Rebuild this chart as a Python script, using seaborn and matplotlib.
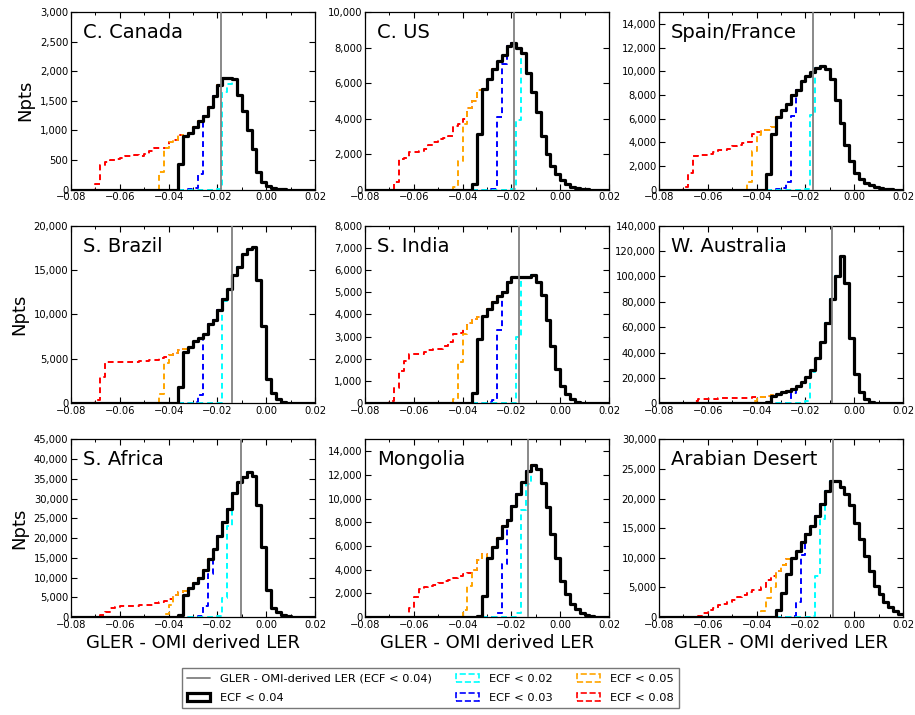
import numpy as np
import pandas as pd
import matplotlib
matplotlib.use("Agg")
import matplotlib.pyplot as plt
import seaborn as sns
from matplotlib.patches import Patch
from matplotlib.lines import Line2D
from matplotlib.ticker import FuncFormatter, MultipleLocator

# ---------------- data ----------------
BIN_START = -0.08
BIN_WIDTH = 0.002
N_BINS = 50

REGIONS = ["C. Canada", "C. US", "Spain/France", "S. Brazil", "S. India",
           "W. Australia", "S. Africa", "Mongolia", "Arabian Desert"]
Y_MAX = [3000, 10000, 15000, 20000, 8000, 140000, 45000, 15000, 30000]
Y_STEP = [500, 2000, 2000, 5000, 1000, 20000, 5000, 2000, 5000]
MEAN_DIFF = [-0.0185, -0.0191, -0.017, -0.014, -0.017, -0.009, -0.0105, -0.0134, -0.0086]

# Each entry: (first bin index, counts). ECF<0.04 is the full histogram;
# the other thresholds list their own leading bins, after which they coincide
# with the wider distribution (ECF<0.08 joins ECF<0.04, the rest join ECF<0.08).
canada_ecf04 = (22, [440, 910, 960, 1050, 1160, 1240, 1400, 1580, 1770, 1890, 1890, 1870,
                     1600, 1330, 1000, 680, 300, 130, 60, 25, 10, 5])
canada_ecf08 = (5, [100, 420, 470, 500, 520, 530, 570, 570, 580, 560, 600, 650, 700, 700,
                    710, 800, 840, 920])
canada_ecf05 = (18, [290])
canada_ecf03 = (24, [10, 20, 260])
canada_ecf02 = (30, [10, 1650, 1780])

us_ecf04 = (22, [300, 3150, 5650, 6200, 6800, 7250, 7600, 8100, 8250, 8000, 7700, 6550,
                 5500, 4350, 3000, 2000, 1350, 850, 550, 300, 170, 100, 50, 20])
us_ecf08 = (6, [400, 1700, 1800, 2100, 2100, 2200, 2300, 2500, 2700, 2850, 2900, 3000,
                3600, 3700, 4000, 4600, 5000, 5600])
us_ecf05 = (18, [150, 1600, 3700])
us_ecf03 = (25, [20, 50, 4100, 7100])
us_ecf02 = (30, [30, 3900])

spain_ecf04 = (22, [1300, 4700, 6100, 6700, 7200, 8000, 8400, 9200, 9600, 9900, 10300,
                    10400, 10200, 9300, 7600, 5600, 3800, 2400, 1400, 900, 550, 350, 200,
                    100, 50, 30])
spain_ecf08 = (5, [250, 1400, 2800, 2900, 2950, 3000, 3200, 3350, 3350, 3400, 3700, 3800,
                   3900, 4000, 4700, 4900, 5000, 5000, 5300])
spain_ecf05 = (18, [600, 3300, 4600])
spain_ecf03 = (24, [30, 100, 600, 6200])
spain_ecf02 = (30, [50, 6300])

brazil_ecf04 = (22, [1800, 5800, 6300, 7000, 7400, 7800, 8900, 9400, 10500, 11800, 12900,
                     14500, 15400, 16800, 17400, 17600, 13900, 8700, 2700, 1200, 500, 150, 50])
brazil_ecf08 = (5, [400, 3000, 4600, 4700, 4700, 4700, 4650, 4700, 4700, 4750, 4800, 4850,
                    4900, 5100, 5200, 5400, 5700, 6000, 6100])
brazil_ecf05 = (18, [1000, 4500])
brazil_ecf03 = (25, [100, 900])
brazil_ecf02 = (30, [50, 11500])

india_ecf04 = (22, [450, 2900, 3950, 4250, 4550, 4850, 5000, 5450, 5680, 5680, 5700, 5680,
                    5800, 5450, 4900, 3750, 2600, 1550, 800, 420, 200, 80, 30])
india_ecf08 = (5, [100, 700, 1450, 1900, 2200, 2200, 2200, 2300, 2400, 2450, 2450, 2600,
                   2750, 3100, 3150, 3350, 3600, 3800, 3900])
india_ecf05 = (18, [200, 1850, 3100])
india_ecf03 = (24, [20, 50, 150, 3300])
india_ecf02 = (30, [30, 3000])

australia_ecf04 = (22, [800, 5500, 7500, 8500, 10000, 11500, 13500, 16500, 20500, 26500,
                        36000, 48000, 63000, 82000, 100500, 116000, 95000, 51500, 23000,
                        8500, 3000, 1200, 400, 100])
australia_ecf08 = (7, [2000, 3000, 3500, 3600, 3700, 3800, 3800, 4000, 4000, 4200, 4300,
                       4500, 4700, 5000, 5300, 5700, 6500])
australia_ecf05 = (19, [2000])
australia_ecf03 = (26, [500, 8000])
australia_ecf02 = (30, [2000, 25000])

africa_ecf04 = (22, [500, 5500, 7400, 8700, 10000, 12000, 14700, 17200, 20500, 24000,
                     27300, 31500, 34300, 35500, 36800, 35800, 28300, 17700, 6800, 2400,
                     1200, 500, 200, 80])
africa_ecf08 = (6, [500, 1300, 2200, 2500, 2700, 2700, 2800, 2900, 3000, 3000, 3100, 3500,
                    3800, 4000, 4500, 5500, 6300, 6600])
africa_ecf05 = (19, [800, 3000])
africa_ecf03 = (26, [200, 2800, 11000])
africa_ecf02 = (30, [300, 4900, 23000])

mongolia_ecf04 = (23, [100, 1800, 5000, 5900, 6700, 7700, 8200, 9400, 10400, 11400, 12300,
                       12800, 12500, 11300, 9300, 7000, 5000, 3000, 1900, 1100, 700, 350,
                       150, 60])
mongolia_ecf08 = (9, [800, 1700, 2400, 2500, 2600, 2700, 2900, 3000, 3100, 3300, 3500,
                      3600, 3700, 4000, 4800, 5300])
mongolia_ecf05 = (20, [600, 2600])
mongolia_ecf03 = (27, [300, 4500])
mongolia_ecf02 = (31, [300, 9000, 11200])

arabia_ecf04 = (24, [1100, 4000, 7300, 10000, 11200, 12700, 14100, 15300, 17000, 19100,
                     21300, 22900, 22900, 22000, 20800, 18900, 15900, 13200, 10300, 7800,
                     5300, 3900, 2500, 1700, 1000, 450])
arabia_ecf08 = (8, [200, 600, 1100, 1500, 2000, 2200, 2600, 2900, 3300, 3700, 4200, 4500,
                    4600, 5000, 6200, 7000, 7700, 8700, 9800])
arabia_ecf05 = (21, [1000, 3200, 5000])
arabia_ecf03 = (27, [200, 2600, 10500])
arabia_ecf02 = (31, [200, 7000, 16500])

PANELS = [
    (canada_ecf04, canada_ecf08, canada_ecf05, canada_ecf03, canada_ecf02),
    (us_ecf04, us_ecf08, us_ecf05, us_ecf03, us_ecf02),
    (spain_ecf04, spain_ecf08, spain_ecf05, spain_ecf03, spain_ecf02),
    (brazil_ecf04, brazil_ecf08, brazil_ecf05, brazil_ecf03, brazil_ecf02),
    (india_ecf04, india_ecf08, india_ecf05, india_ecf03, india_ecf02),
    (australia_ecf04, australia_ecf08, australia_ecf05, australia_ecf03, australia_ecf02),
    (africa_ecf04, africa_ecf08, africa_ecf05, africa_ecf03, africa_ecf02),
    (mongolia_ecf04, mongolia_ecf08, mongolia_ecf05, mongolia_ecf03, mongolia_ecf02),
    (arabia_ecf04, arabia_ecf08, arabia_ecf05, arabia_ecf03, arabia_ecf02),
]

LEGEND_LABELS = ["GLER - OMI-derived LER (ECF < 0.04)", "ECF < 0.04", "ECF < 0.02",
                 "ECF < 0.03", "ECF < 0.05", "ECF < 0.08"]

# ---------------- helpers ----------------
edges = BIN_START + BIN_WIDTH * np.arange(N_BINS + 1)
centers = 0.5 * (edges[:-1] + edges[1:])
edge_list = edges.tolist()


def place(entry):
    start, vals = entry
    arr = np.zeros(N_BINS)
    arr[start:start + len(vals)] = vals
    return arr


def join(entry, base):
    """Series' own leading bins, then the wider distribution beyond."""
    start, vals = entry
    arr = base.copy()
    arr[:start] = 0
    arr[start:start + len(vals)] = vals
    return arr


# ---------------- style ----------------
sns.set_style("ticks")
plt.rcParams.update({
    "font.family": ["DejaVu Sans"],
    "xtick.direction": "in",
    "ytick.direction": "in",
    "xtick.top": True,
    "ytick.right": True,
    "axes.edgecolor": "black",
    "axes.linewidth": 0.9,
    "xtick.color": "black",
    "ytick.color": "black",
    "xtick.labelcolor": "black",
    "ytick.labelcolor": "black",
    "text.color": "black",
    "axes.labelcolor": "black",
})

fig, axes = plt.subplots(3, 3, figsize=(9.15, 7.15), dpi=100)
fig.subplots_adjust(left=0.0776, right=0.9869, top=0.9832, bottom=0.1371,
                    wspace=0.205, hspace=0.2034)

dash = (0, (3, 2))
colors = {"02": "#00FFFF", "03": "#0000FF", "05": "#FFA500", "08": "#FF0000"}

for i, ax in enumerate(axes.flat):
    e04, e08, e05, e03, e02 = PANELS[i]
    black = place(e04)
    red = black.copy()
    s, v = e08
    red[s:s + len(v)] = v
    orange = join(e05, red)
    blue = join(e03, red)
    cyan = join(e02, red)

    for vals, key in [(red, "08"), (orange, "05"), (blue, "03"), (cyan, "02")]:
        df = pd.DataFrame({"diff": centers, "n": vals})
        sns.histplot(data=df, x="diff", weights="n", bins=edge_list, element="step",
                     fill=False, color=colors[key], linestyle=dash, linewidth=1.4,
                     ax=ax, zorder=2)
    dfb = pd.DataFrame({"diff": centers, "n": black})
    sns.histplot(data=dfb, x="diff", weights="n", bins=edge_list, element="step",
                 fill=False, color="black", linewidth=2.3, ax=ax, zorder=3)
    ax.axvline(MEAN_DIFF[i], color="#808080", linewidth=1.3, zorder=4)

    ax.set_xlim(-0.08, 0.02)
    ax.set_ylim(0, Y_MAX[i])
    ax.xaxis.set_major_locator(MultipleLocator(0.02))
    ax.xaxis.set_minor_locator(MultipleLocator(0.01))
    ax.yaxis.set_major_locator(MultipleLocator(Y_STEP[i]))
    ax.xaxis.set_major_formatter(FuncFormatter(lambda x, p: f"{x:.2f}".replace("-", "\u2212")))
    ax.yaxis.set_major_formatter(FuncFormatter(lambda y, p: f"{y:,.0f}"))
    ax.tick_params(which="major", length=4, width=0.8, labelsize=7.2, pad=2,
                   direction="in", top=True, right=True, colors="black")
    ax.tick_params(which="minor", length=2.5, width=0.7, direction="in", top=True,
                   right=True, colors="black")
    ax.set_xlabel("")
    ax.set_ylabel("")
    ax.text(0.05, 0.885, REGIONS[i], transform=ax.transAxes, fontsize=14,
            va="center", ha="left", color="black")
    if i % 3 == 0:
        ax.set_ylabel("Npts", fontsize=13, color="black")
    if i >= 6:
        ax.set_xlabel("GLER - OMI derived LER", fontsize=13, labelpad=3, color="black")

handles = [
    Line2D([], [], color="#808080", linewidth=1.3),
    Patch(facecolor="white", edgecolor="black", linewidth=2.3),
    Patch(facecolor="white", edgecolor=colors["02"], linestyle="--", linewidth=1.2),
    Patch(facecolor="white", edgecolor=colors["03"], linestyle="--", linewidth=1.2),
    Patch(facecolor="white", edgecolor=colors["05"], linestyle="--", linewidth=1.2),
    Patch(facecolor="white", edgecolor=colors["08"], linestyle="--", linewidth=1.2),
]
leg = fig.legend(handles, LEGEND_LABELS, ncol=3, loc="lower left",
                 bbox_to_anchor=(176 / 915, 1 / 715), fontsize=8.2, frameon=True,
                 fancybox=False, edgecolor="#555555", columnspacing=2.1,
                 handlelength=2.0, handletextpad=0.9, labelspacing=0.8, borderpad=0.5)
leg.get_frame().set_linewidth(1.0)
for t in leg.get_texts():
    t.set_color("black")

fig.savefig("out.png", dpi=100)
